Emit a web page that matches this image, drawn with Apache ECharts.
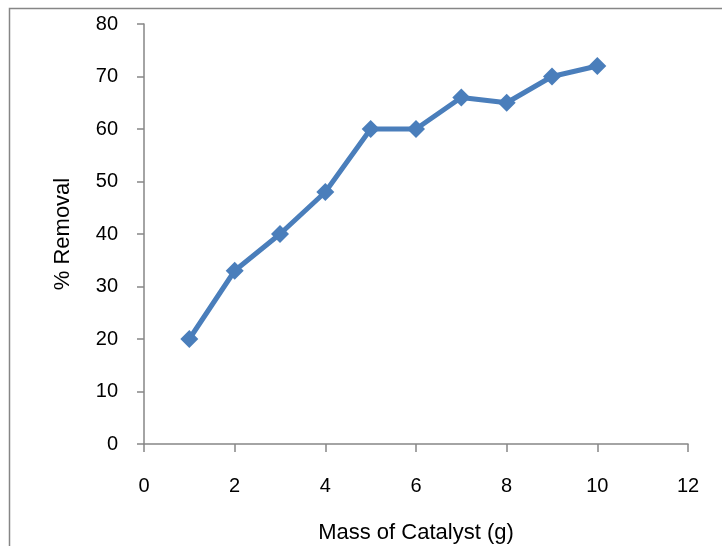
<!DOCTYPE html>
<html>
	<head>
		<meta charset="utf-8" />
		<title>Mass of Catalyst</title>
		<script type="text/javascript" src="https://cdn.jsdelivr.net/npm/echarts@6/dist/echarts.min.js"></script>
	</head>
	<body style="margin:0;">
		<div id="main" style="width:722px;height:546px;"></div>
	</body>
	<script>
	var massList = [1, 2, 3, 4, 5, 6, 7, 8, 9, 10];
	var removalList = [20, 33, 40, 48, 60, 60, 66, 65, 70, 72];

	var dom = document.getElementById('main');
	var myChart = echarts.init(dom, null, {renderer: 'canvas'});

	var points = massList.map(function (m, i) { return [m, removalList[i]]; });
	var axisColor = '#868686';

	var option = {
		animation: false,
		backgroundColor: '#fff',
		graphic: [{
			type: 'rect',
			shape: {x: 9.5, y: 8.5, width: 800, height: 700},
			style: {fill: 'none', stroke: axisColor, lineWidth: 1.5},
			silent: true
		}],
		grid: {
			left: 144,
			right: 34,
			top: 24,
			bottom: 102,
			outerBoundsMode: 'none'
		},
		xAxis: {
			type: 'value',
			min: 0,
			max: 12,
			interval: 2,
			name: 'Mass of Catalyst (g)',
			nameLocation: 'middle',
			nameGap: 78,
			nameTextStyle: {color: '#000', fontSize: 22, fontFamily: 'Liberation Sans'},
			axisLine: {lineStyle: {color: axisColor, width: 1.5}},
			axisTick: {show: true, length: 8, lineStyle: {color: axisColor, width: 1.5}},
			axisLabel: {color: '#000', fontSize: 20, margin: 32, fontFamily: 'Liberation Sans'},
			splitLine: {show: false}
		},
		yAxis: {
			type: 'value',
			min: 0,
			max: 80,
			interval: 10,
			name: '% Removal',
			nameLocation: 'middle',
			nameGap: 70,
			nameTextStyle: {color: '#000', fontSize: 22, fontFamily: 'Liberation Sans'},
			axisLine: {show: true, lineStyle: {color: axisColor, width: 1.5}},
			axisTick: {show: true, length: 7, lineStyle: {color: axisColor, width: 1.5}},
			axisLabel: {color: '#000', fontSize: 20, margin: 26, fontFamily: 'Liberation Sans'},
			splitLine: {show: false}
		},
		series: [{
			type: 'line',
			data: points,
			symbol: 'diamond',
			symbolSize: 18,
			itemStyle: {color: '#4a7ebb'},
			lineStyle: {color: '#4a7ebb', width: 5}
		}]
	};
	myChart.setOption(option);
	window.addEventListener('resize', myChart.resize);
	</script>
</html>
